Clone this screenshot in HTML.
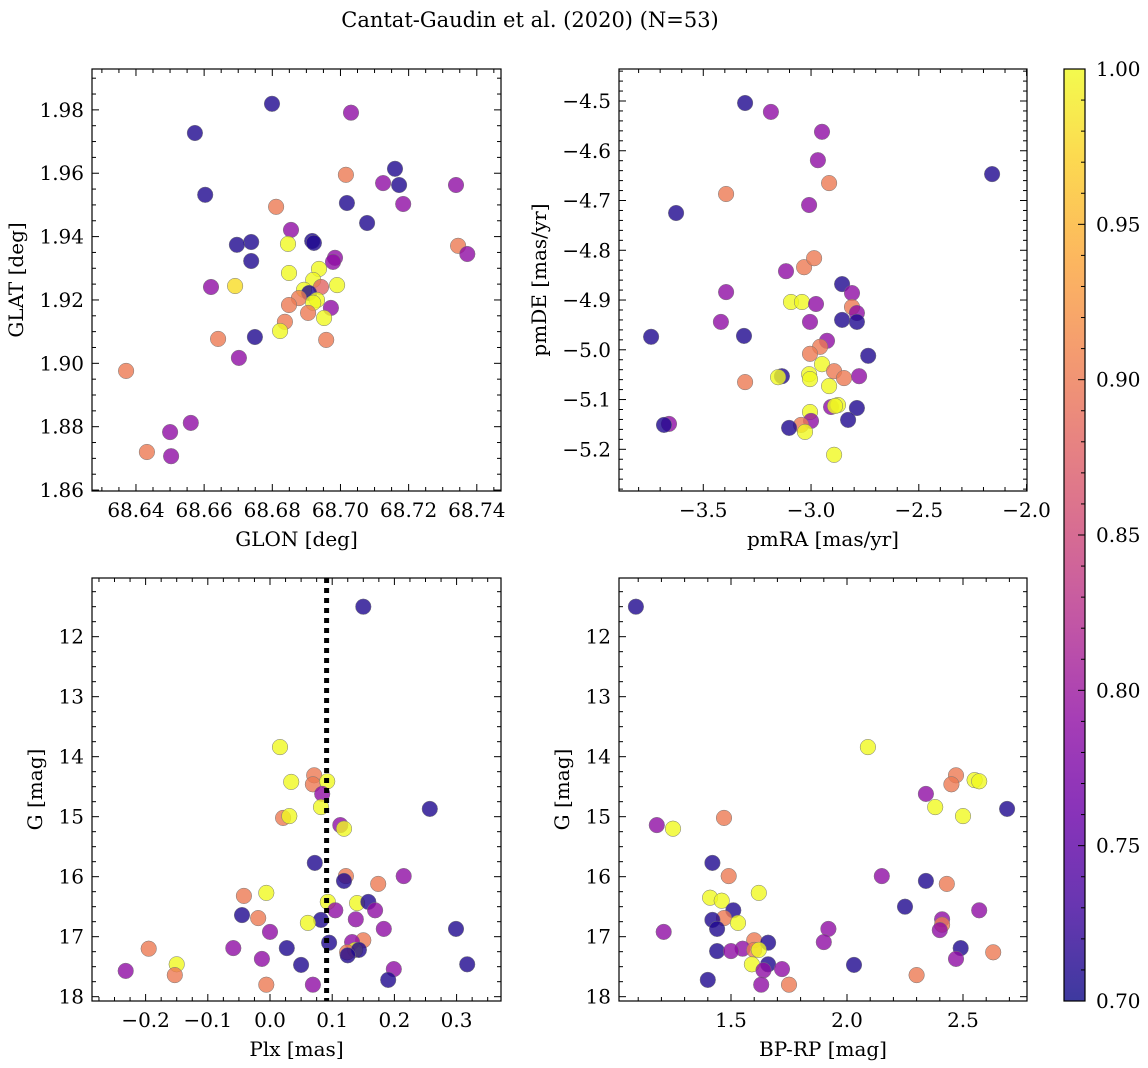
<!DOCTYPE html>
<html><head><meta charset="utf-8"><style>
body{margin:0;background:#fff}
svg{display:block;font-family:"DejaVu Serif","Liberation Serif",serif}
</style></head><body>
<svg id="fig" width="1148" height="1068" viewBox="0 0 1148 1068" xmlns="http://www.w3.org/2000/svg">
<text x="530" y="27" font-size="21" text-anchor="middle">Cantat-Gaudin et al. (2020) (N=53)</text>
</svg>
<script>
// ---- data: panel 1 (GLON vs GLAT)
const glonTL=[68.6799,68.6573,68.7031,68.6603,68.7160,68.7172,68.7125,68.7339,68.7016,68.7184,68.7019,68.6811,68.7078,68.6917,68.6922,68.6738,68.6696,68.6855,68.6846,68.7345,68.7372,68.6738,68.6984,68.6978,68.6620,68.6691,68.6937,68.6849,68.6920,68.6990,68.6893,68.6943,68.6908,68.6931,68.6878,68.6849,68.6920,68.6972,68.6905,68.6952,68.6837,68.6823,68.6749,68.6641,68.6958,68.6702,68.6371,68.6561,68.6500,68.6432,68.6503];
const glatTL=[1.9819,1.9727,1.9791,1.9532,1.9614,1.9563,1.9569,1.9563,1.9595,1.9503,1.9506,1.9494,1.9443,1.9386,1.9380,1.9383,1.9374,1.9421,1.9377,1.9371,1.9345,1.9323,1.9333,1.9320,1.9241,1.9244,1.9298,1.9285,1.9263,1.9247,1.9232,1.9241,1.9222,1.9200,1.9206,1.9184,1.9191,1.9175,1.9159,1.9143,1.9131,1.9102,1.9083,1.9077,1.9074,1.9017,1.8976,1.8812,1.8783,1.8720,1.8707];
const probTL=[0.71,0.71,0.79,0.71,0.71,0.71,0.79,0.79,0.9,0.79,0.71,0.9,0.71,0.71,0.71,0.71,0.71,0.79,1.0,0.9,0.79,0.71,0.79,0.79,0.79,0.98,1.0,1.0,1.0,1.0,1.0,0.88,0.71,1.0,0.9,0.9,1.0,0.79,0.9,1.0,0.9,1.0,0.71,0.9,0.9,0.79,0.9,0.79,0.79,0.9,0.79];
// ---- panel 2 (pmRA vs pmDE)
const pmraTR=[-3.306,-3.186,-2.949,-2.968,-2.916,-2.160,-3.394,-3.009,-3.626,-3.032,-2.986,-3.116,-2.856,-2.810,-3.093,-3.042,-2.977,-3.394,-2.810,-2.787,-2.856,-2.787,-3.418,-3.005,-3.742,-3.311,-2.926,-2.958,-3.005,-2.735,-2.949,-2.893,-3.009,-3.005,-3.135,-3.153,-2.847,-2.777,-3.306,-2.916,-2.907,-2.875,-2.889,-2.787,-3.005,-2.828,-3.000,-3.046,-3.102,-3.028,-3.659,-3.682,-2.893];
const pmdeTR=[-4.504,-4.522,-4.562,-4.619,-4.665,-4.647,-4.687,-4.709,-4.725,-4.834,-4.816,-4.842,-4.868,-4.886,-4.904,-4.904,-4.908,-4.884,-4.914,-4.926,-4.940,-4.944,-4.944,-4.944,-4.974,-4.972,-4.982,-4.994,-5.008,-5.012,-5.029,-5.043,-5.049,-5.059,-5.053,-5.055,-5.057,-5.053,-5.065,-5.073,-5.115,-5.111,-5.113,-5.117,-5.125,-5.141,-5.143,-5.151,-5.157,-5.165,-5.149,-5.151,-5.211];
const probTR=[0.71,0.79,0.79,0.79,0.9,0.71,0.9,0.79,0.71,0.9,0.9,0.79,0.71,0.79,1.0,1.0,0.79,0.79,0.9,0.79,0.71,0.71,0.79,0.79,0.71,0.71,0.79,0.9,0.9,0.71,1.0,0.9,1.0,1.0,0.71,1.0,0.9,0.79,0.9,1.0,0.79,1.0,1.0,0.71,1.0,0.71,0.79,0.9,0.71,1.0,0.79,0.71,1.0];
// ---- panel 3 (Plx vs G)
const plxBL=[0.150,0.016,0.071,0.069,0.034,0.092,0.084,0.082,0.257,0.021,0.031,0.113,0.119,0.072,0.122,0.215,0.174,0.119,-0.006,-0.042,0.140,0.093,0.105,0.158,0.169,-0.045,-0.019,0.138,0.082,0.061,0.000,0.183,0.299,0.150,0.132,0.095,0.027,-0.059,-0.195,0.137,0.124,0.143,-0.013,0.125,0.050,0.317,-0.150,-0.153,-0.232,0.199,0.190,-0.006,0.069];
const gBL=[11.50,13.84,14.31,14.46,14.42,14.41,14.62,14.84,14.87,15.02,14.99,15.14,15.20,15.77,15.99,15.99,16.12,16.07,16.27,16.32,16.44,16.42,16.56,16.42,16.56,16.64,16.69,16.71,16.72,16.77,16.92,16.87,16.87,17.06,17.09,17.10,17.19,17.19,17.20,17.22,17.26,17.22,17.37,17.31,17.47,17.46,17.46,17.64,17.57,17.54,17.72,17.80,17.80];
const probBL=[0.71,1.0,0.9,0.9,1.0,1.0,0.79,1.0,0.71,0.9,1.0,0.79,1.0,0.71,0.9,0.79,0.9,0.71,1.0,0.9,1.0,1.0,0.79,0.71,0.79,0.71,0.9,0.79,0.71,1.0,0.79,0.79,0.71,0.9,0.79,0.71,0.71,0.79,0.9,1.0,0.9,0.71,0.79,0.71,0.71,0.71,1.0,0.9,0.79,0.79,0.71,0.9,0.79];
const plxMean=[0.091];
// ---- panel 4 (BP-RP vs G)
const bprpBR=[1.09,2.09,2.34,2.47,2.45,2.55,2.57,2.38,2.69,2.50,1.18,1.25,1.47,1.42,1.49,2.15,2.34,2.43,1.62,1.41,1.46,2.25,1.51,2.57,2.41,1.47,1.42,1.53,2.41,2.40,1.44,1.21,1.92,1.60,1.90,1.66,1.44,1.55,1.50,1.60,1.62,2.49,2.63,2.47,1.59,1.66,1.64,1.72,2.03,2.30,1.40,1.63,1.75];
const gBR=[11.50,13.84,14.62,14.31,14.46,14.39,14.41,14.84,14.87,14.99,15.14,15.20,15.02,15.77,15.99,15.99,16.07,16.12,16.27,16.35,16.40,16.50,16.56,16.56,16.71,16.69,16.72,16.77,16.80,16.89,16.87,16.92,16.87,17.06,17.09,17.10,17.24,17.20,17.24,17.22,17.22,17.19,17.26,17.37,17.46,17.46,17.56,17.54,17.47,17.64,17.72,17.80,17.80];
const probBR=[0.71,1.0,0.79,0.9,0.9,1.0,1.0,1.0,0.71,1.0,0.79,1.0,0.9,0.71,0.9,0.79,0.71,0.9,1.0,1.0,1.0,0.71,0.71,0.79,0.79,0.9,0.71,1.0,0.9,0.79,0.71,0.79,0.79,0.9,0.79,0.71,0.71,0.79,0.79,0.9,1.0,0.71,0.9,0.79,1.0,0.71,0.79,0.79,0.71,0.9,0.71,0.79,0.9];
const cbTicks=[0.70,0.75,0.80,0.85,0.90,0.95,1.00];

const NS='http://www.w3.org/2000/svg';
const svg=document.getElementById('fig');
function mk(tag,attrs,parent){const e=document.createElementNS(NS,tag);for(const k in attrs)e.setAttribute(k,attrs[k]);(parent||svg).appendChild(e);return e;}
const stops=[[0,13,8,135],[0.1,65,4,157],[0.2,106,0,168],[0.3,143,13,164],[0.4,177,42,144],[0.5,204,71,120],[0.6,225,100,98],[0.7,242,132,75],[0.8,252,166,54],[0.9,252,206,37],[1,240,249,33]];
function plasma(t){t=Math.max(0,Math.min(1,t));for(let i=1;i<stops.length;i++){if(t<=stops[i][0]){const a=stops[i-1],b=stops[i],f=(t-a[0])/(b[0]-a[0]);return `rgb(${Math.round(a[1]+f*(b[1]-a[1]))},${Math.round(a[2]+f*(b[2]-a[2]))},${Math.round(a[3]+f*(b[3]-a[3]))})`;}}return 'rgb(240,249,33)';}
function cmap(p){return plasma((p-0.7)/0.3);}

function panel(cfg){
  const {name,L,T,R,B,xd,yd,xt,yt,xm,ym,xf,yf,xl,yl,ylx,xs,ys,ps}=cfg;
  const g=mk('g',{});  
  const sx=v=>L+(v-xd[0])/(xd[1]-xd[0])*(R-L);
  const sy=v=>B-(v-yd[0])/(yd[1]-yd[0])*(B-T);
  for(let i=0;i<xs.length;i++){
    const c=mk('circle',{cx:sx(xs[i]).toFixed(1),cy:sy(ys[i]).toFixed(1),r:7.8,fill:cmap(ps[i]),'fill-opacity':0.8,stroke:'#777','stroke-width':0.5},g);
    
    
  }
  if(cfg.vline!==undefined){
    const l=mk('line',{x1:sx(cfg.vline),x2:sx(cfg.vline),y1:T,y2:B,stroke:'#000','stroke-width':5,'stroke-dasharray':'5,5'},g);
    
    
  }
  const fr=mk('rect',{x:L,y:T,width:R-L,height:B-T,fill:'none',stroke:'#000','stroke-width':1.2},g);
  
  
  const lo=Math.min(xd[0],xd[1]),hi=Math.max(xd[0],xd[1]);
  for(let k=Math.ceil(lo/xm-1e-6);k*xm<=hi+1e-9;k++){const v=k*xm,x=sx(v);const maj=xt.some(t=>Math.abs(t-v)<xm/10);const len=maj?7:4;
    mk('line',{x1:x,x2:x,y1:B,y2:B-len,stroke:'#000','stroke-width':1},g);mk('line',{x1:x,x2:x,y1:T,y2:T+len,stroke:'#000','stroke-width':1},g);}
  const ylo=Math.min(yd[0],yd[1]),yhi=Math.max(yd[0],yd[1]);
  for(let k=Math.ceil(ylo/ym-1e-6);k*ym<=yhi+1e-9;k++){const v=k*ym,y=sy(v);const maj=yt.some(t=>Math.abs(t-v)<ym/10);const len=maj?7:4;
    mk('line',{x1:L,x2:L+len,y1:y,y2:y,stroke:'#000','stroke-width':1},g);mk('line',{x1:R,x2:R-len,y1:y,y2:y,stroke:'#000','stroke-width':1},g);}
  xt.forEach(v=>{const t=mk('text',{x:sx(v),y:B+26,'font-size':20,'text-anchor':'middle'},g);t.textContent=xf(v);
    });
  yt.forEach(v=>{const t=mk('text',{x:L-8,y:sy(v)+7,'font-size':20,'text-anchor':'end'},g);t.textContent=yf(v);
    });
  const xa=mk('text',{x:(L+R)/2,y:B+55,'font-size':20,'text-anchor':'middle'},g);xa.textContent=xl;
  
  const ya=mk('text',{x:ylx,y:(T+B)/2,'font-size':20,'text-anchor':'middle',transform:`rotate(-90 ${ylx} ${(T+B)/2})`},g);ya.textContent=yl;
  
}
const mn=v=>(v<0?'\u2212':'')+Math.abs(v).toFixed(1);
panel({name:'glon-glat-panel',L:92,T:69,R:501,B:491,xd:[68.6271,68.7471],yd:[1.8597,1.9929],xt:[68.64,68.66,68.68,68.70,68.72,68.74],yt:[1.86,1.88,1.90,1.92,1.94,1.96,1.98],xm:0.005,ym:0.005,xf:v=>v.toFixed(2),yf:v=>v.toFixed(2),xl:'GLON [deg]',yl:'GLAT [deg]',ylx:23,xs:glonTL,ys:glatTL,ps:probTL});
panel({name:'proper-motion-panel',L:619,T:69,R:1027,B:491,xd:[-3.891,-1.998],yd:[-5.2838,-4.4357],xt:[-3.5,-3.0,-2.5,-2.0],yt:[-5.2,-5.1,-5.0,-4.9,-4.8,-4.7,-4.6,-4.5],xm:0.1,ym:0.02,xf:mn,yf:mn,xl:'pmRA [mas/yr]',yl:'pmDE [mas/yr]',ylx:546,xs:pmraTR,ys:pmdeTR,ps:probTR});
panel({name:'parallax-mag-panel',L:92,T:578,R:501,B:1001,xd:[-0.2862,0.3714],yd:[18.072,11.022],xt:[-0.2,-0.1,0.0,0.1,0.2,0.3],yt:[12,13,14,15,16,17,18],xm:0.025,ym:0.25,xf:mn,yf:v=>String(v),xl:'Plx [mas]',yl:'G [mag]',ylx:42,xs:plxBL,ys:gBL,ps:probBL,vline:plxMean[0]});
panel({name:'cmd-panel',L:619,T:578,R:1027,B:1001,xd:[1.0172,2.7759],yd:[18.072,11.022],xt:[1.5,2.0,2.5],yt:[12,13,14,15,16,17,18],xm:0.1,ym:0.25,xf:v=>v.toFixed(1),yf:v=>String(v),xl:'BP-RP [mag]',yl:'G [mag]',ylx:569,xs:bprpBR,ys:gBR,ps:probBR});

// colorbar
const cb=mk('g',{});
const defs=mk('defs',{},svg);const lg=mk('linearGradient',{id:'cbg',x1:0,y1:1,x2:0,y2:0},defs);
for(let i=0;i<=20;i++){const p=0.7+0.3*i/20;mk('stop',{offset:i/20,'stop-color':cmap(p),'stop-opacity':0.8},lg);}
const CT=69,CB=1001,CL=1064,CR=1085;
mk('rect',{x:CL,y:CT,width:CR-CL,height:CB-CT,fill:'url(#cbg)',stroke:'#000','stroke-width':1.2},cb);
const cy=v=>CB-(v-0.7)/0.3*(CB-CT);
for(let k=70;k<=100;k++){const v=k/100,y=cy(v);const maj=k%5===0;mk('line',{x1:CR,x2:CR-(maj?7:4),y1:y,y2:y,stroke:'#000','stroke-width':1},cb);}
cbTicks.forEach(v=>{const t=mk('text',{x:CR+11,y:cy(v)+7,'font-size':20},cb);t.textContent=v.toFixed(2);
  });
</script>
</body></html>
